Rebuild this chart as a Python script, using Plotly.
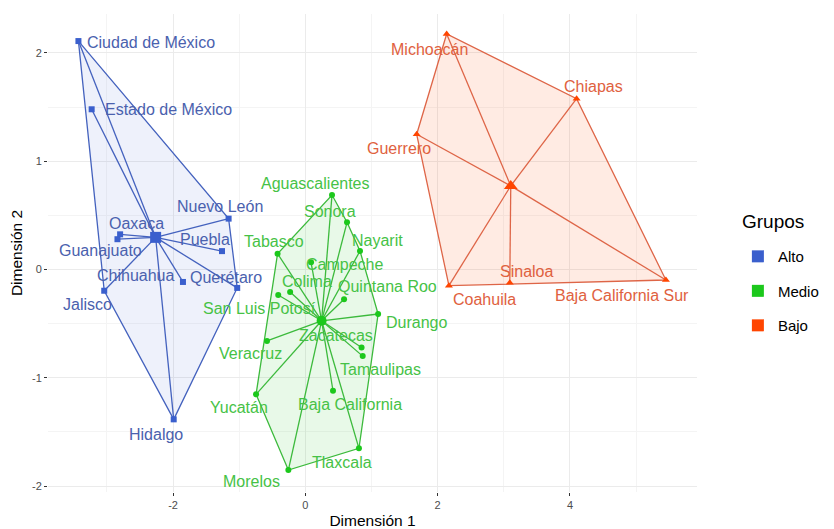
import plotly.graph_objects as go

# ---------------- data ----------------
groups = ["Alto", "Medio", "Bajo"]

alto_names = ["Ciudad de México", "Estado de México", "Nuevo León", "Oaxaca", "Guanajuato",
              "Puebla", "Chihuahua", "Querétaro", "Jalisco", "Hidalgo"]
alto_x = [-3.43, -3.23, -1.16, -2.80, -2.84, -1.26, -1.85, -1.03, -3.04, -1.99]
alto_y = [2.11, 1.48, 0.47, 0.325, 0.28, 0.17, -0.115, -0.17, -0.196, -1.384]

medio_names = ["Aguascalientes", "Sonora", "Nayarit", "Tabasco", "Campeche", "Colima",
               "San Luis Potosí", "Quintana Roo", "Durango", "Veracruz", "Zacatecas",
               "Tamaulipas", "Baja California", "Yucatán", "Tlaxcala", "Morelos"]
medio_x = [0.403, 0.63, 0.826, -0.42, 0.086, -0.23, -0.41, 0.585, 1.10, -0.58, 0.85,
           0.867, 0.418, -0.745, 0.81, -0.257]
medio_y = [0.688, 0.436, 0.171, 0.146, 0.066, -0.208, -0.236, -0.275, -0.411, -0.66, -0.72,
           -0.80, -1.12, -1.153, -1.652, -1.852]

bajo_names = ["Michoacán", "Chiapas", "Guerrero", "Coahuila", "Sinaloa", "Baja California Sur"]
bajo_x = [2.136, 4.10, 1.683, 2.17, 3.09, 5.45]
bajo_y = [2.175, 1.578, 1.249, -0.149, -0.122, -0.097]

x_ticks = [-2, 0, 2, 4]
y_ticks = [-2, -1, 0, 1, 2]

# ---------------- styles ----------------
colors = {"Alto": "#3A5FCD", "Medio": "#1CC81C", "Bajo": "#FF4500"}
line_colors = {"Alto": "#4462BE", "Medio": "#3CBA3C", "Bajo": "#DE6547"}
text_colors = {"Alto": "#4A61AE", "Medio": "#46C246", "Bajo": "#E0613E"}
fills = {"Alto": "rgba(58,95,205,0.085)", "Medio": "rgba(28,200,28,0.10)", "Bajo": "rgba(255,69,0,0.11)"}
symbols = {"Alto": "square", "Medio": "circle", "Bajo": "triangle-up"}
msize = {"Alto": 6, "Medio": 6, "Bajo": 7}
csize = {"Alto": 11, "Medio": 10, "Bajo": 12}

# label offsets in pixels (dx right, dy down) relative to each point
alto_off = [(73, 1.7), (76.6, 0.7), (-8.3, -11.7), (16.7, -11), (-17, 11.7),
            (-16.7, -11.4), (-47.4, -6.3), (-11, -10.7), (-17.1, 13.3), (-17.5, 15)]
medio_off = [(-17, -11.7), (-17.2, -10.6), (17, -11), (-4, -12), (33.2, 1.7), (16.7, -11),
             (-19.1, 13.3), (43, -12.6), (38.2, 8.3), (-16.7, 13), (-25.2, -12),
             (17.3, 13.3), (17, 14), (-16.7, 13), (-16.8, 14.4), (-36.6, 11.7)]
bajo_off = [(-17.2, 15.3), (17, -12), (-17.7, 14), (36, 13.6), (16.7, -11), (-44.3, 15)]

data = {
    "Alto": (alto_names, alto_x, alto_y, alto_off),
    "Medio": (medio_names, medio_x, medio_y, medio_off),
    "Bajo": (bajo_names, bajo_x, bajo_y, bajo_off),
}


def convex_hull(pts):
    pts = sorted(set(pts))
    if len(pts) <= 2:
        return pts

    def cross(o, a, b):
        return (a[0] - o[0]) * (b[1] - o[1]) - (a[1] - o[1]) * (b[0] - o[0])

    lower = []
    for p in pts:
        while len(lower) >= 2 and cross(lower[-2], lower[-1], p) <= 0:
            lower.pop()
        lower.append(p)
    upper = []
    for p in reversed(pts):
        while len(upper) >= 2 and cross(upper[-2], upper[-1], p) <= 0:
            upper.pop()
        upper.append(p)
    return lower[:-1] + upper[:-1]


fig = go.Figure()
annotations = []

for g in groups:
    names, xs, ys, offs = data[g]
    hull = convex_hull(list(zip(xs, ys)))
    hx = [p[0] for p in hull] + [hull[0][0]]
    hy = [p[1] for p in hull] + [hull[0][1]]
    fig.add_trace(go.Scatter(x=hx, y=hy, mode="lines", fill="toself", fillcolor=fills[g],
                             line=dict(color=line_colors[g], width=1.3), showlegend=False,
                             hoverinfo="skip"))
    cx = sum(xs) / len(xs)
    cy = sum(ys) / len(ys)
    sx, sy = [], []
    for x, y in zip(xs, ys):
        sx += [cx, x, None]
        sy += [cy, y, None]
    fig.add_trace(go.Scatter(x=sx, y=sy, mode="lines", line=dict(color=line_colors[g], width=1.3),
                             showlegend=False, hoverinfo="skip"))
    fig.add_trace(go.Scatter(x=xs, y=ys, mode="markers", text=names,
                             marker=dict(symbol=symbols[g], size=msize[g], color=colors[g]),
                             showlegend=False))
    fig.add_trace(go.Scatter(x=[cx], y=[cy], mode="markers",
                             marker=dict(symbol=symbols[g], size=csize[g], color=colors[g]),
                             showlegend=False))
    for n, x, y, (dx, dy) in zip(names, xs, ys, offs):
        annotations.append(dict(x=x, y=y, xref="x", yref="y", text=n, showarrow=False,
                                xshift=dx, yshift=-dy, xanchor="center", yanchor="middle",
                                font=dict(size=16, color=text_colors[g],
                                          family="Liberation Sans, Arial, sans-serif")))

# legend title (as text next to the legend)
annotations.append(dict(x=1.066, y=0.565, xref="paper", yref="paper", text="Grupos",
                        showarrow=False, xanchor="left", yanchor="middle",
                        font=dict(size=19, color="#000000",
                                  family="Liberation Sans, Arial, sans-serif")))

# legend entries
for g in groups:
    fig.add_trace(go.Scatter(x=[None], y=[None], mode="markers", name=g, legendgroup=g,
                             marker=dict(symbol="square", size=15, color=colors[g])))

fig.update_layout(
    width=826, height=521,
    margin=dict(l=40, r=137, t=6, b=37, autoexpand=False),
    paper_bgcolor="white", plot_bgcolor="white",
    font=dict(family="Liberation Sans, Arial, sans-serif", color="#000000"),
    annotations=annotations,
    legend=dict(font=dict(size=15, color="#000000"),
                x=1.063, xanchor="left", y=0.527, yanchor="top",
                tracegroupgap=12, itemsizing="constant", bgcolor="rgba(0,0,0,0)"),
)

axis_common = dict(showgrid=True, gridcolor="#EBEBEB", gridwidth=1, zeroline=False,
                   showline=False, ticks="outside", ticklen=3, tickcolor="#333333",
                   tickfont=dict(size=11, color="#4D4D4D"), automargin=False,
                   minor=dict(showgrid=True, gridcolor="#F4F4F4", gridwidth=1))

fig.update_xaxes(range=[-3.89, 5.92], tickvals=x_ticks, ticktext=[str(v) for v in x_ticks],
                 minor_dtick=1, minor_tick0=-3,
                 title=dict(text="Dimensión 1", font=dict(size=15.5, color="#000000"), standoff=4),
                 **axis_common)
fig.update_yaxes(range=[-2.055, 2.36], tickvals=y_ticks, ticktext=[str(v) for v in y_ticks],
                 minor_dtick=1, minor_tick0=-1.5,
                 title=dict(text="Dimensión 2", font=dict(size=15.5, color="#000000"), standoff=6),
                 **axis_common)

fig.write_html("out.html")
